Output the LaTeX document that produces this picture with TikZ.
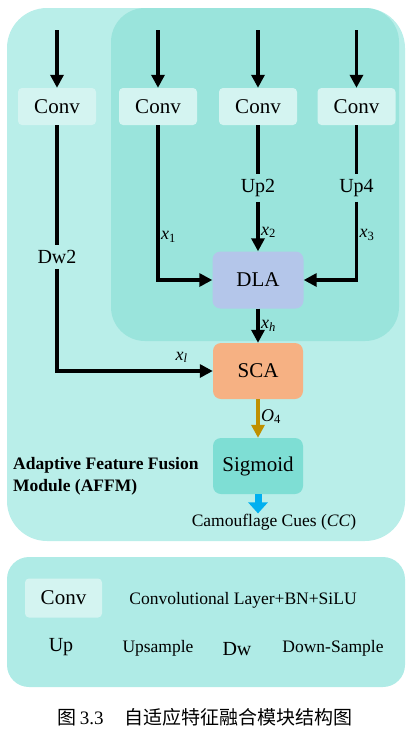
\documentclass[tikz,border=0pt]{standalone}
\usepackage{fontspec}
\setmainfont{Liberation Serif}
\newfontfamily\cjk{Noto Sans CJK SC}
\usetikzlibrary{arrows.meta,positioning}

\definecolor{outerbg}{HTML}{B9EEE9}
\definecolor{innerbg}{HTML}{9AE4DC}
\definecolor{convbg}{HTML}{D4F4F1}
\definecolor{dlabg}{HTML}{B4C6EA}
\definecolor{scabg}{HTML}{F6B183}
\definecolor{sigbg}{HTML}{7EDED4}
\definecolor{legendbg}{HTML}{AFEBE6}
\definecolor{goldline}{HTML}{BF9000}
\definecolor{blueline}{HTML}{00B0F0}

\tikzset{
    convbox/.style = {
        fill=convbg,
        rounded corners=4pt,
        minimum width=78pt,
        minimum height=37pt,
        font=\fontsize{21}{25}\selectfont
    },
    block/.style = {
        rounded corners=8pt,
        minimum width=90pt,
        minimum height=56pt,
        font=\fontsize{21}{25}\selectfont
    },
    plain/.style = {
        inner sep=5pt,
        font=\fontsize{20}{24}\selectfont
    },
    wire/.style = {
        line width=3.2pt,
        black
    },
    flow/.style = {
        wire,
        -{Triangle[length=13pt,width=13pt]}
    },
    tag/.style = {
        inner sep=1.5pt,
        text=black,
        font=\fontsize{18}{20}\selectfont
    },
    keytext/.style = {
        font=\fontsize{17.5}{20}\selectfont
    },
    keysym/.style = {
        font=\fontsize{20}{24}\selectfont
    }
}

\begin{document}
\begin{tikzpicture}[x=1pt,y=-1pt]
    \useasboundingbox (0,0) rectangle (413,732);

    % Draw backgrounds
    \fill[outerbg, rounded corners=40pt] (7,8) rectangle (405,541);
    \fill[innerbg, rounded corners=34pt] (111,8) rectangle (399,341);
    \fill[legendbg, rounded corners=22pt] (7,557) rectangle (405,687);

    % Draw blocks
    \node[convbox] (conv0) at (57,106.5) {Conv};
    \node[convbox] (conv1) at (158,106.5) {Conv};
    \node[convbox] (conv2) at (258,106.5) {Conv};
    \node[convbox] (conv3) at (356.5,106.5) {Conv};

    \node[plain] (dw2) at (57,257) {Dw2};
    \node[plain] (up2) at (258,188) {Up2};
    \node[plain] (up4) at (356.5,188) {Up4};

    \node[block, fill=dlabg, minimum width=91pt, minimum height=57pt] (dla) at (258,280) {DLA};
    \node[block, fill=scabg] (sca) at (258,371) {SCA};
    \node[block, fill=sigbg] (sig) at (258,466) {Sigmoid};
    \node[keytext] (cc) at (274,522) {Camouflage Cues (\textit{CC})};
    \coordinate (ccin) at ([yshift=-3pt]sig.south |- cc.north);

    \node[anchor=west, align=left, inner sep=3pt,
          font=\bfseries\fontsize{17.5}{22}\selectfont] (affm) at (10,476)
        {Adaptive Feature Fusion\\Module (AFFM)};

    % Draw inputs
    \coordinate (in0) at (57,30);
    \coordinate (in1) at (158,30);
    \coordinate (in2) at (258,30);
    \coordinate (in3) at (356.5,30);
    \foreach \i in {0,...,3}
        \draw[flow] (in\i) -- (conv\i);

    % Draw connections
    \draw[wire] (conv0) -- (dw2);
    \draw[flow] (dw2) |- (sca)
        node[tag, pos=0.9, above=5pt] {\textit{x}\textsubscript{\textit{l}}};
    \draw[flow] (conv1) |- (dla)
        node[tag, pos=0.36, right] {\textit{x}\textsubscript{1}};
    \draw[wire] (conv2) -- (up2);
    \draw[flow] (up2) -- (dla)
        node[tag, pos=0.62, right] {\textit{x}\textsubscript{2}};
    \draw[wire] (conv3) -- (up4);
    \draw[flow] (up4) |- (dla)
        node[tag, pos=0.21, right] {\textit{x}\textsubscript{3}};
    \draw[flow] (dla) -- (sca)
        node[tag, pos=0.5, right] {\textit{x}\textsubscript{\textit{h}}};
    \draw[flow, goldline] (sca) -- (sig)
        node[tag, pos=0.45, right] {\textit{O}\textsubscript{4}};
    \draw[line width=7pt, blueline, -{Triangle[length=11pt,width=19pt]}]
        (sig) -- (ccin);

    % Draw legend
    \node[convbox, minimum width=77pt, minimum height=39pt] (keyconv) at (63.5,598) {Conv};
    \node[keytext] (keyconvtext) at (243,600) {Convolutional Layer+BN+SiLU};
    \node[keysym] (keyup) at (61,647) {Up};
    \node[keytext] (keyuptext) at (158,648) {Upsample};
    \node[keysym] (keydw) at (237,649) {Dw};
    \node[keytext] (keydwtext) at (333,648) {Down-Sample};

    % Draw caption
    \node[font=\fontsize{19}{22}\selectfont] (caption) at (205,717)
        {\cjk 图\,{\rmfamily 3.3}\hspace{1.1em}自适应特征融合模块结构图};
\end{tikzpicture}
\end{document}
